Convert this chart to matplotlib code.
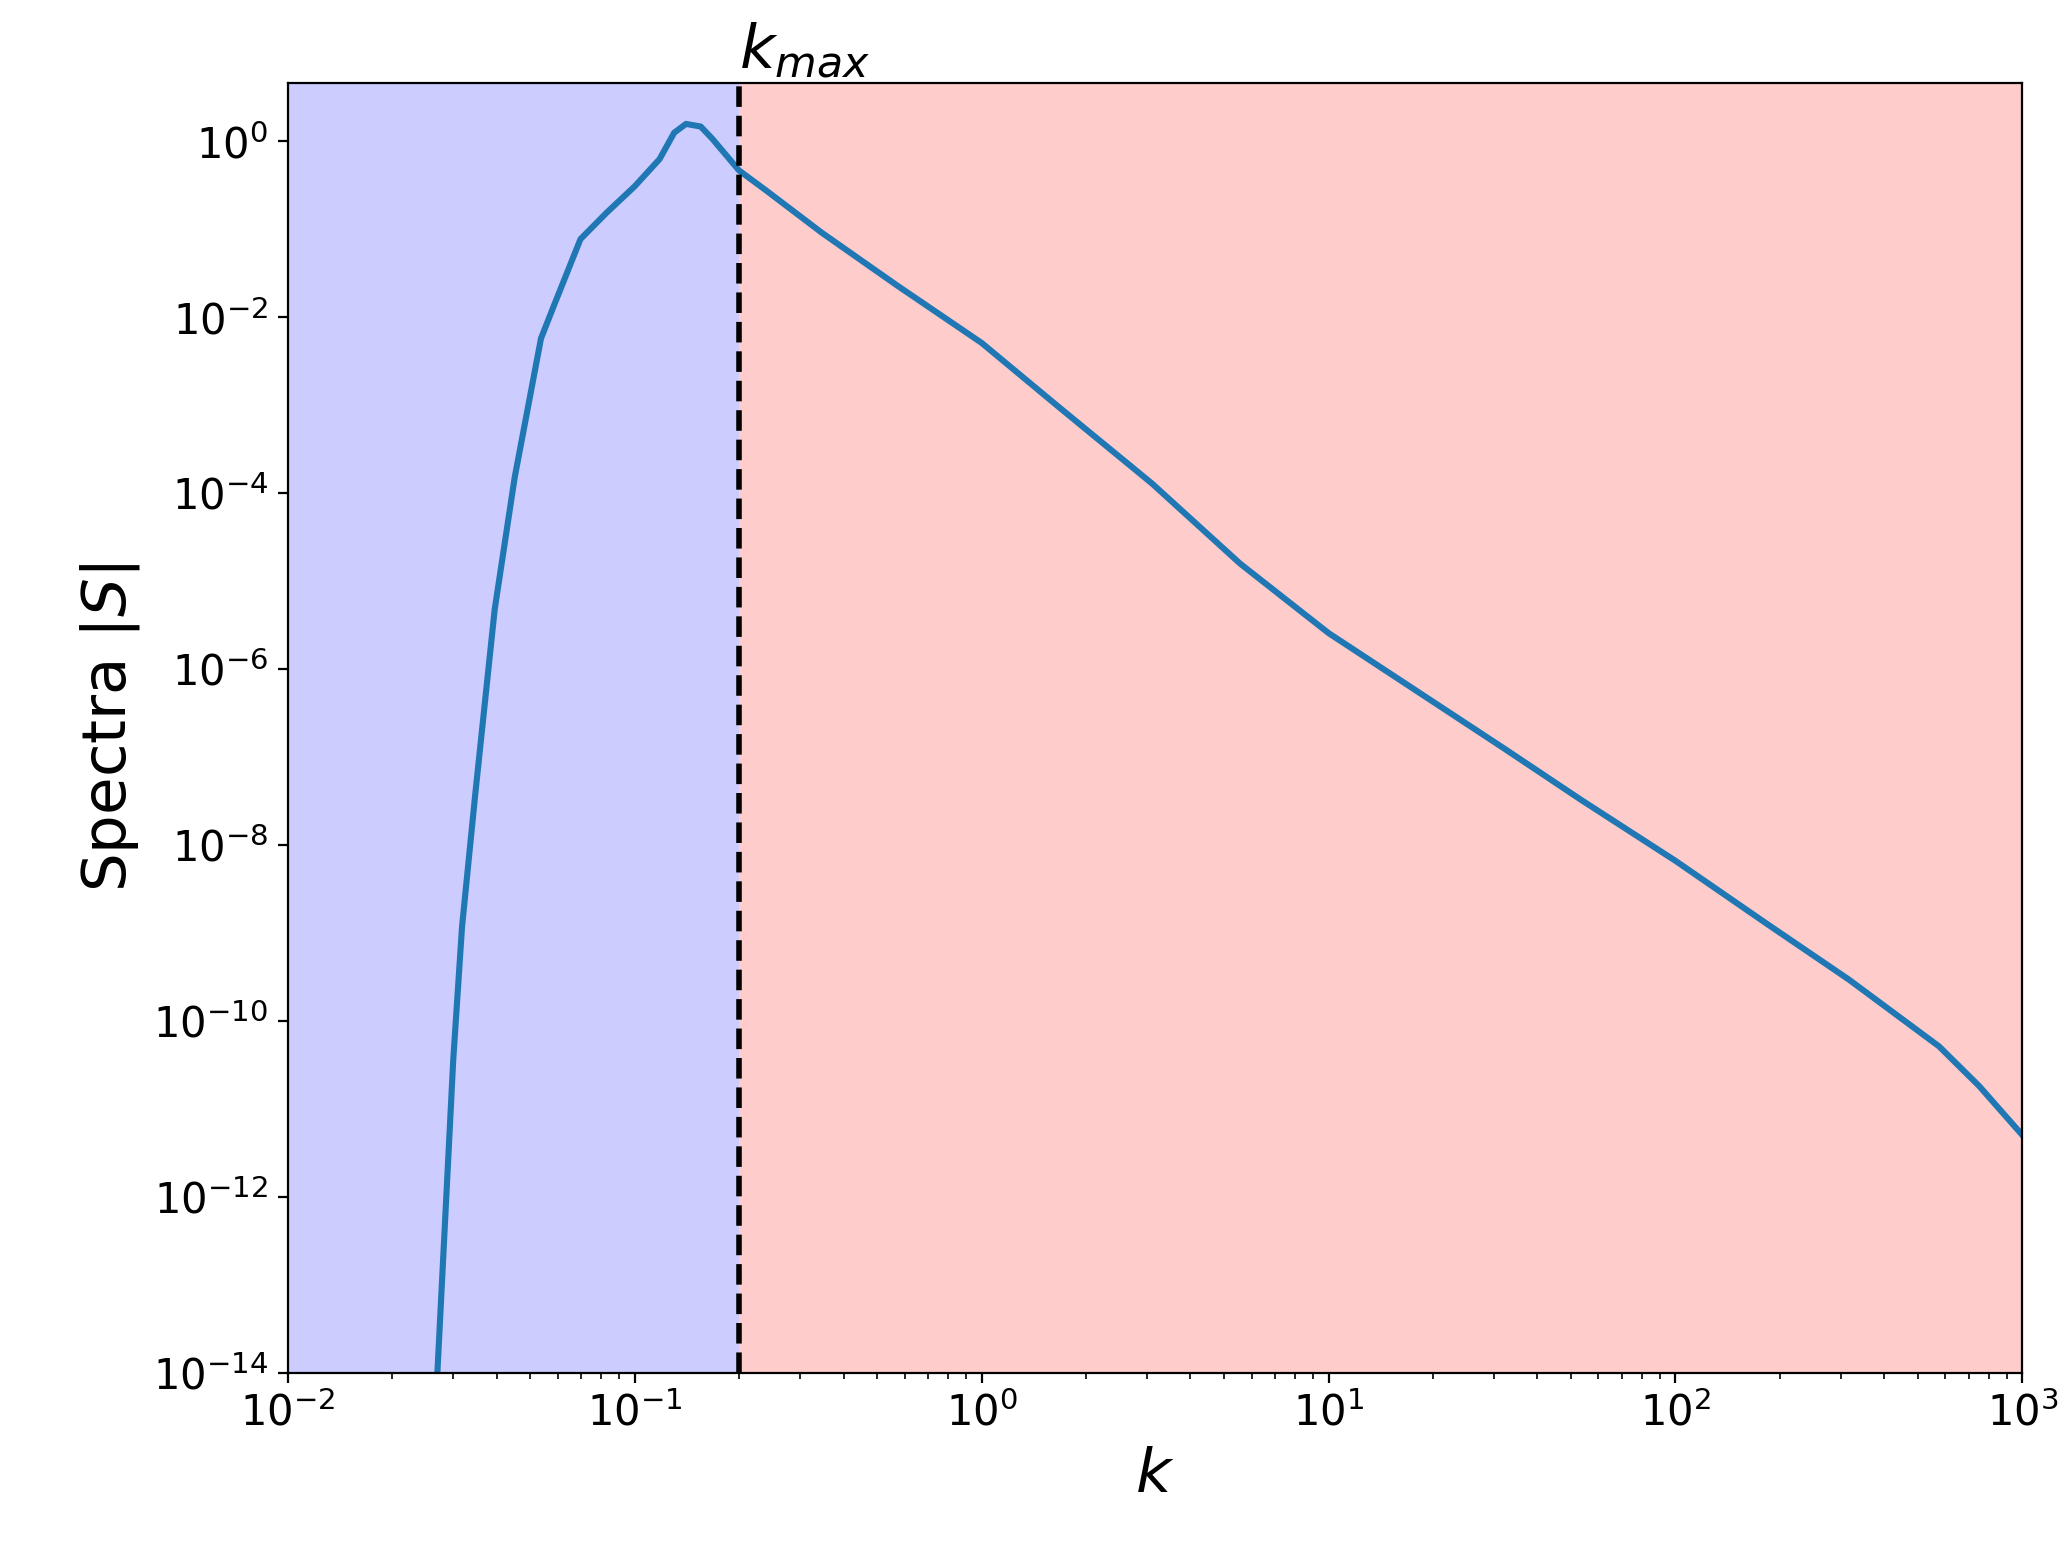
import matplotlib
matplotlib.use("Agg")
import matplotlib.pyplot as plt
from matplotlib.ticker import LogLocator, NullLocator

k = [0.027, 0.030, 0.0318, 0.0347, 0.0395, 0.0451, 0.049, 0.0537, 0.0586, 0.0698, 0.083,
     0.1, 0.118, 0.13, 0.1406, 0.155, 0.1675, 0.2, 0.238, 0.347, 0.572, 1.0, 1.67, 3.1, 5.56,
     10.0, 17.5, 32.0, 53.6, 100.0, 184.0, 316.0, 575.0, 750.0, 1000.0]
logS = [-14.0, -10.44, -8.93, -7.43, -5.32, -3.82, -3.07, -2.24, -1.86, -1.11, -0.81,
        -0.51, -0.2, 0.1, 0.2, 0.17, 0.03, -0.33, -0.55, -1.04, -1.64, -2.29, -3.02, -3.89, -4.8,
        -5.59, -6.22, -6.9, -7.49, -8.18, -8.9, -9.53, -10.29, -10.74, -11.3]
k_max = 0.2

S = [10 ** v for v in logS]

fig = plt.figure(figsize=(10.35, 7.79), dpi=200)
ax = fig.add_axes([0.139, 0.119, 0.838, 0.828])
ax.axvspan(1e-2, k_max, color='blue', alpha=0.2, lw=0)
ax.axvspan(k_max, 1e3, color='red', alpha=0.2, lw=0)
ax.plot(k, S, color='#1f77b4', lw=2.2)
ax.axvline(k_max, color='black', ls='--', lw=2)
ax.set_xscale('log'); ax.set_yscale('log')
ax.set_xlim(1e-2, 1e3); ax.set_ylim(1e-14, 10 ** 0.67)
ax.yaxis.set_major_locator(LogLocator(base=100, numticks=20))
ax.yaxis.set_minor_locator(NullLocator())
ax.tick_params(labelsize=15)
ax.set_xlabel('$k$', fontsize=22)
ax.set_ylabel('Spectra $|S|$', fontsize=22)
ax.text(k_max, 10 ** 0.68, '$k_{max}$', fontsize=22, ha='left', va='bottom')
fig.savefig('out.png', dpi=200)
